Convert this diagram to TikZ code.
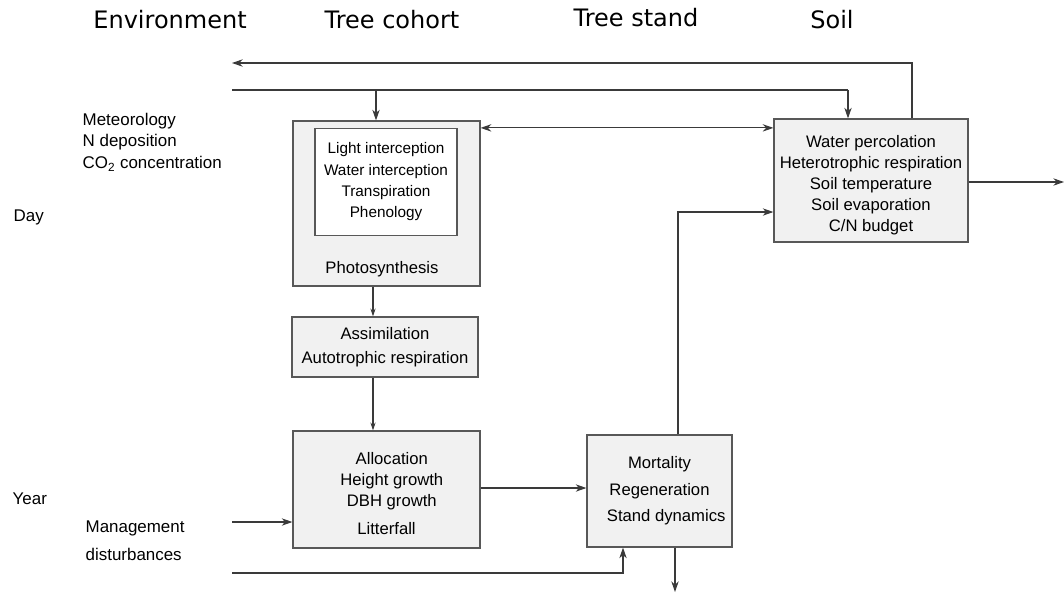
\documentclass[tikz,border=0pt]{standalone}
\usepackage{fontspec}
\setmainfont{Liberation Sans}
\newfontfamily\headfont{DejaVu Sans}
\usepackage{tikz}
\usetikzlibrary{shapes,arrows,arrows.meta}

\definecolor{boxfill}{HTML}{F1F1F1}
\definecolor{linecol}{HTML}{3A3A3A}

\begin{document}
\begin{tikzpicture}[x=0.75pt,y=-0.75pt,
                every path/.style={>={Stealth[length=8pt,width=5.5pt,inset=2.5pt]}},
                link/.style={draw=linecol,line width=0.8pt},
                small/.style={>={Stealth[length=6pt,width=4pt,inset=2pt]}},
                box/.style={draw=linecol!85,line width=0.9pt,fill=boxfill,inner sep=0pt,align=center,
                  font=\fontsize{12.5}{15.75}\selectfont},
                head/.style={font=\headfont\fontsize{18}{22}\selectfont},
                lab/.style={anchor=west,font=\fontsize{12.7}{16}\selectfont,align=left}]
  \useasboundingbox (0,0) rectangle (1064,597);
  % column titles
  \node[head] (tenv)    at (170,20) {Environment};
  \node[head] (tcohort) at (392,20) {Tree cohort};
  \node[head] (tstand)  at (636,18) {Tree stand};
  \node[head] (tsoil)   at (832,20) {Soil};
  % left side labels
  \node[lab] (met)  at (78,121) {Meteorology};
  \node[lab] (ndep) at (78,142) {N deposition};
  \node[lab] (co2)  at (78,164) {CO\textsubscript{2} concentration};
  \node[lab] (day)  at (9,217)   {Day};
  \node[lab] (year) at (8,499)   {Year};
  \node[lab,font=\fontsize{12.7}{21}\selectfont] (mgmt) at (81,541) {Management\\disturbances};
  % boxes
  \node[box,minimum width=140.25pt,minimum height=123.75pt] (cohort) at (386.5,203.5) {};
  \node[box,fill=white,minimum width=106.5pt,minimum height=80.25pt,
        font=\fontsize{11.5}{16}\selectfont] (inner) at (386,182)
        {Light interception\\Water interception\\Transpiration\\Phenology};
  \node[font=\fontsize{12.5}{15}\selectfont] (photo) at (382,269) {Photosynthesis};
  \node[box,minimum width=139.5pt,minimum height=45pt,font=\fontsize{12.5}{18}\selectfont] (assim) at (385,347)
        {Assimilation\\Autotrophic respiration};
  \node[box,minimum width=140.25pt,minimum height=87.75pt] (alloc) at (386.5,489.5)
        {\mbox{}\\[-0.65pt]\hspace*{8pt}Allocation\\\hspace*{8pt}Height growth\\\hspace*{8pt}DBH growth\\[5pt]Litterfall};
  \node[box,minimum width=108.75pt,minimum height=84pt,font=\fontsize{12.5}{20}\selectfont] (stand) at (659.5,491)
        {Mortality\\Regeneration\\\hspace*{10pt}Stand dynamics};
  \node[box,minimum width=145.5pt,minimum height=92.25pt] (soil) at (871,180.5)
        {\mbox{}\\[0.9pt]Water percolation\\Heterotrophic respiration\\Soil temperature\\Soil evaporation\\C/N budget};
  % free ends
  \coordinate (fbL) at (232,63);
  \coordinate (fbR) at (912,63);
  \coordinate (envL) at (232,90);
  \coordinate (envC) at (376,90);
  \coordinate (envR) at (848,90);
  \coordinate (out) at (1064,182);
  \coordinate (up) at (678,212);
  \coordinate (mgL) at (232,522);
  \coordinate (btL) at (232,573);
  \coordinate (btR) at (623,573);
  \coordinate (sink) at (675,592);
  \coordinate (cx) at (373,0);
  % connectors
  \draw[link,->] (soil.north -| fbR) -- (fbR) -- (fbL);
  \draw[link] (envL) -- (envR);
  \draw[link,->] (envR) -- (envR |- soil.north);
  \draw[link,->] (envC) -- (envC |- cohort.north);
  \draw[link,{Stealth[length=8pt,width=5.5pt,inset=2.5pt]}-{Stealth[length=8pt,width=5.5pt,inset=2.5pt]}]
    (cohort.east |- inner.north) -- (soil.west |- inner.north);
  \draw[link,->] (soil.east |- out) -- (out);
  \draw[link,->] (stand.north -| up) -- (up) -- (soil.west |- up);
  \draw[link,small,->] (cx |- cohort.south) -- (cx |- assim.north);
  \draw[link,small,->] (cx |- assim.south) -- (cx |- alloc.north);
  \draw[link,->] (alloc.east |- 0,488) -- (stand.west |- 0,488);
  \draw[link,->] (mgL) -- (mgL -| alloc.west);
  \draw[link,->] (btL) -- (btR) -- (btR |- stand.south);
  \draw[link,->] (sink |- stand.south) -- (sink);
\end{tikzpicture}
\end{document}
